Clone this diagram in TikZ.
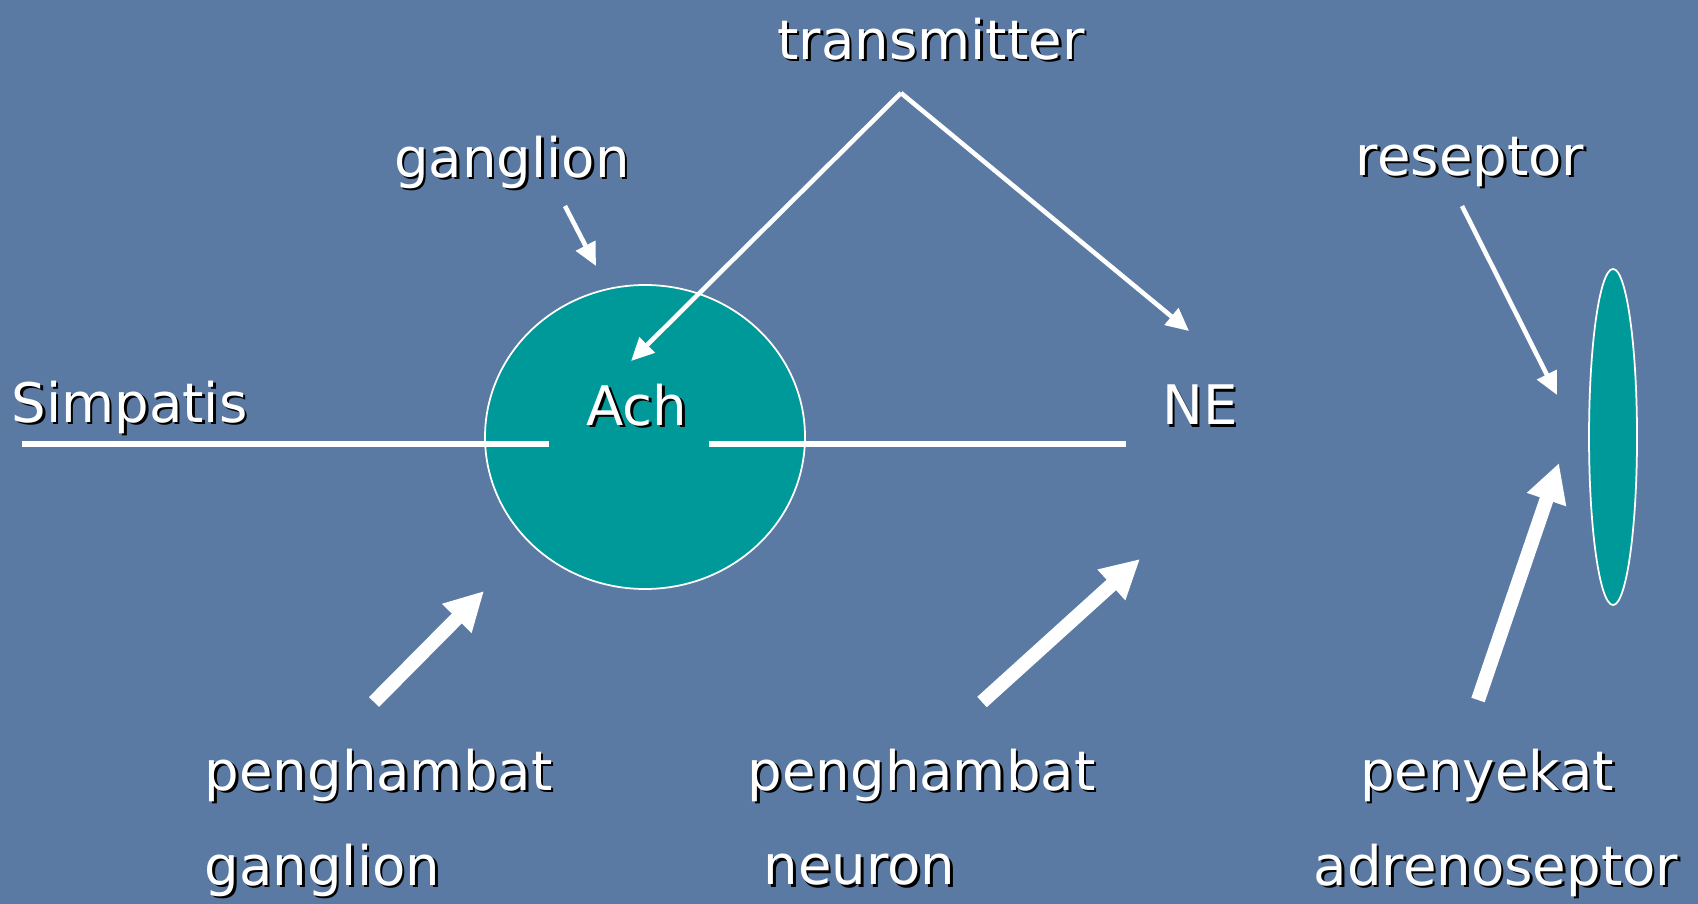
\documentclass[tikz,border=0pt]{standalone}
\usepackage{fontspec}
\setmainfont{DejaVu Sans}
\usetikzlibrary{arrows.meta}
\definecolor{slide}{RGB}{90,122,163}
\definecolor{teal}{RGB}{0,153,153}
\tikzset{arrow/.style={white, line width=1.3pt, -{Triangle[length=6.5pt,width=6pt]}}}
\tikzset{fatarrow/.style={white, line width=4pt, -{Triangle[length=11pt,width=11pt]}}}
\tikzset{lbl/.style={text=white, font=\fontsize{15.5}{18}\selectfont, inner sep=0pt}}
\tikzset{cell/.style={draw=white, line width=0.5pt, fill=teal}}
\newcommand{\shlabel}[4][]{%
  \node[lbl, text=black, #1] at ([shift={(2.5,2.5)}]#3) {#4};
  \node[lbl, #1] (#2) at (#3) {#4};}

\begin{document}
\begin{tikzpicture}[x=0.01cm, y=-0.01cm]
    \fill[slide] (0,0) rectangle (1698,904);
    \useasboundingbox (0,0) rectangle (1698,904);
    \draw[cell] (645,437) ellipse (160 and 152);
    \draw[cell] (1613,437) ellipse (24 and 168);
    \shlabel{trans}{931,39}{transmitter}
    \shlabel{gang}{512,162}{ganglion}
    \shlabel{resep}{1470,162}{reseptor}
    \shlabel[anchor=west]{Simp}{11,407}{Simpatis}
    \shlabel{Ach}{637,405}{Ach}
    \shlabel{NE}{1200,405}{NE}
    \shlabel[anchor=west]{pg1}{204,775}{penghambat}
    \shlabel[anchor=west]{pg2}{204,870}{ganglion}
    \shlabel[anchor=west]{pn1}{747,775}{penghambat}
    \shlabel[anchor=west]{pn2}{763,870}{neuron}
    \shlabel{pa1}{1487,775}{penyekat}
    \shlabel{pa2}{1496,870}{adrenoseptor}
    \coordinate (top) at (901,93);
    \coordinate (AchIn) at (631,361);
    \coordinate (NEIn) at (1189,331);
    \draw[arrow] (top) to (AchIn);
    \draw[arrow] (top) to (NEIn);
    \draw[arrow] (565,206) to (596,266);
    \draw[arrow] (1462,206) to (1557,395);
    \draw[white, line width=1.5pt] (22,444) to (549,444);
    \draw[white, line width=1.5pt] (709,444) to (1126,444);
    \draw[fatarrow] (374,702) to (484,591);
    \draw[fatarrow] (982,702) to (1140,559);
    \draw[fatarrow] (1478,700) to (1559,463);
  \end{tikzpicture}
\end{document}
